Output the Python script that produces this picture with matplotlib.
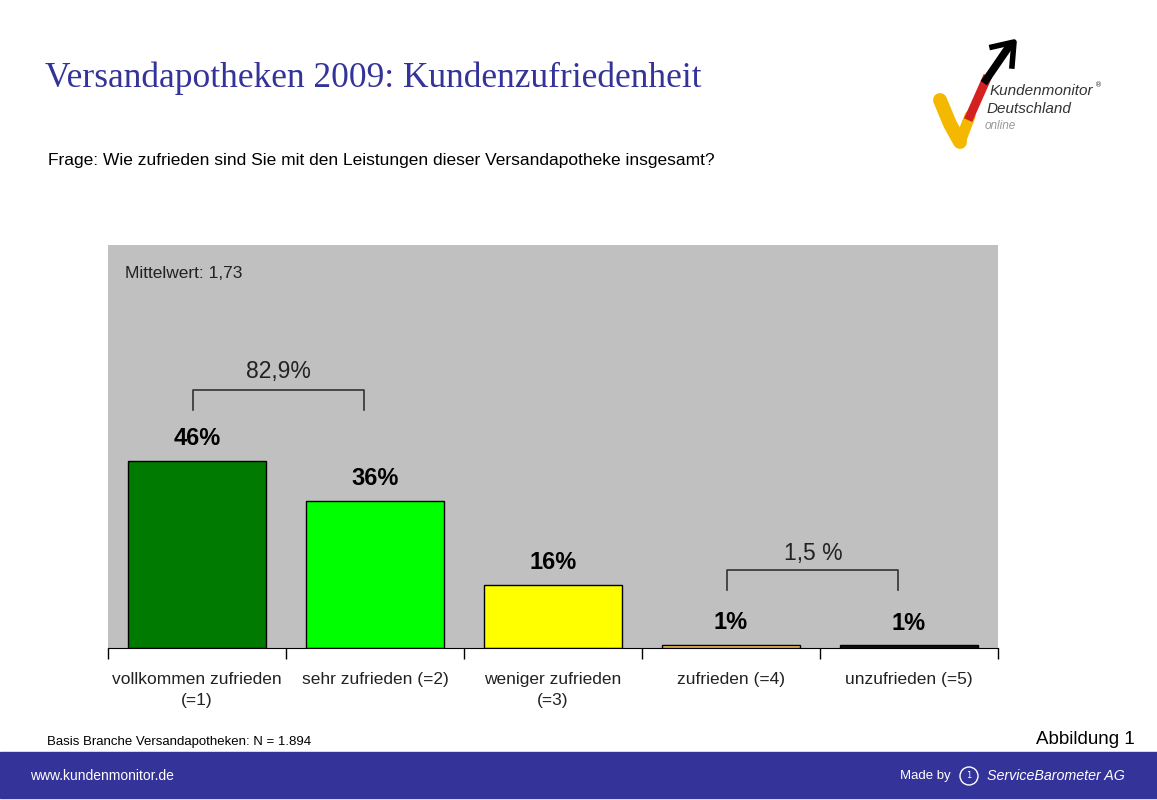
import numpy as np
import matplotlib
matplotlib.use("Agg")
import matplotlib.pyplot as plt
from matplotlib.patches import Rectangle, Circle

# Daten
categories = ["vollkommen zufrieden\n(=1)", "sehr zufrieden (=2)", "weniger zufrieden\n(=3)",
              "zufrieden (=4)", "unzufrieden (=5)"]
values = [46.4, 36.5, 15.6, 0.8, 0.7]
value_labels = ["46%", "36%", "16%", "1%", "1%"]
bar_colors = ["#007A00", "#00FF00", "#FFFF00", "#FFCC66", "#111111"]
group_labels = ["82,9%", "1,5 %"]
group_spans = [(0, 1), (3, 4)]
mean_label = "Mittelwert: 1,73"

BLUE = "#333399"
BG = "#C0C0C0"
SANS = "Liberation Sans"

fig = plt.figure(figsize=(11.57, 8), dpi=100)

# overlay in Pixelkoordinaten fuer Kopf/Fuss
over = fig.add_axes([0, 0, 1, 1])
over.set_xlim(0, 1157)
over.set_ylim(800, 0)
over.axis("off")

over.text(45, 78, "Versandapotheken 2009: Kundenzufriedenheit", family="Liberation Serif",
          fontsize=25.5, color=BLUE, va="center", ha="left")
over.text(48, 161, "Frage: Wie zufrieden sind Sie mit den Leistungen dieser Versandapotheke insgesamt?",
          family=SANS, fontsize=12.5, va="center", ha="left")

# Logo
over.plot([940, 950, 960], [100, 124, 142], color="#F5B800", lw=10, solid_capstyle="round")
over.plot([960, 970], [142, 116], color="#F5B800", lw=8, solid_capstyle="round")
over.plot([970, 986], [116, 80], color="#D42020", lw=6.5)
over.plot([986, 1008], [80, 48], color="black", lw=5.5)
over.plot([992, 1014, 1012], [47, 42, 66], color="black", lw=4, solid_joinstyle="round")
over.text(990, 91, "Kundenmonitor", fontsize=11, style="italic", color="#333333",
          family=SANS, va="center")
over.text(1095, 85, "®", fontsize=5, color="#333333", va="center")
over.text(987, 109, "Deutschland", fontsize=11, style="italic", color="#333333",
          family=SANS, va="center")
over.text(985, 126, "online", fontsize=8.5, style="italic", color="#999999",
          family=SANS, va="center")

# Fussbereich
over.add_patch(Rectangle((0, 752), 1157, 46, color=BLUE, zorder=1))
over.text(47, 742, "Basis Branche Versandapotheken: N = 1.894", fontsize=9.5,
          family=SANS, va="center")
over.text(1135, 740, "Abbildung 1", fontsize=13.5, family=SANS, va="center", ha="right")
over.text(30, 776, "www.kundenmonitor.de", fontsize=10, color="white",
          family=SANS, va="center", zorder=2)
over.text(900, 776, "Made by", fontsize=9.5, color="white", family=SANS,
          va="center", zorder=2)
over.add_patch(Circle((969, 776), 9, fill=False, ec="white", lw=1, zorder=2))
over.text(969, 776, "1", fontsize=6, color="white", ha="center", va="center", zorder=2)
over.text(987, 776, "ServiceBarometer AG", fontsize=10.3, color="white", style="italic",
          family=SANS, va="center", zorder=2)

# Diagramm
ax = fig.add_axes([108 / 1157, 1 - 648 / 800, 890 / 1157, 403 / 800])
ax.set_facecolor(BG)
x = np.arange(len(categories))
ax.bar(x, values, width=0.775, color=bar_colors, edgecolor="black", linewidth=1, zorder=2)
ax.set_xlim(-0.5, len(categories) - 0.5)
ax.set_ylim(0, 100)
for s in ["top", "right", "left"]:
    ax.spines[s].set_visible(False)
ax.spines["bottom"].set_color("black")
ax.set_yticks([])
ax.set_xticks(x)
ax.set_xticklabels(categories, fontsize=12.5, family=SANS, color="#222222", linespacing=1.5)
ax.tick_params(axis="x", which="major", length=0, pad=17)
ax.set_xticks(np.arange(-0.5, len(categories)), minor=True)
ax.tick_params(axis="x", which="minor", length=8, width=1, color="black", direction="out")

for xi, v, lab in zip(x, values, value_labels):
    ax.text(xi, v + 5.5, lab, ha="center", va="center", fontsize=17, fontweight="bold",
            family=SANS)

ax.text(0.019, 0.93, mean_label, transform=ax.transAxes, fontsize=12.5,
        family=SANS, va="center", color="#222222")

# Klammern
bracket_y = [(64, 59, 68.5), (19.4, 14.4, 23.5)]
for (i, j), lab, (top, bot, ty) in zip(group_spans, group_labels, bracket_y):
    x0, x1 = i - 0.02, j - 0.06
    ax.plot([x0, x0, x1, x1], [bot, top, top, bot], color="#333333", lw=1.2, zorder=3)
    ax.text((x0 + x1) / 2, ty, lab, ha="center", va="center", fontsize=16.5,
            family=SANS, color="#222222")

fig.savefig("out.png", dpi=100)
